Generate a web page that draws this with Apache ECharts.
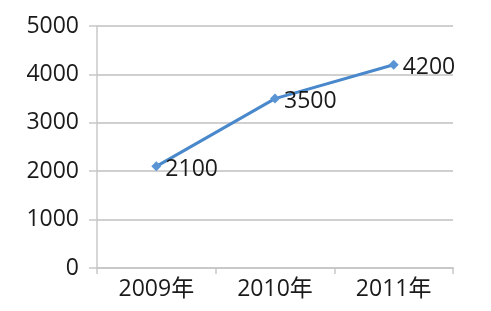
<!DOCTYPE html>
<html>
<head>
<meta charset="utf-8">
<script src="https://cdn.jsdelivr.net/npm/echarts@6/dist/echarts.min.js"></script>
<style>html,body{margin:0;padding:0;background:#fff}#main{width:491px;height:311px}</style>
</head>
<body>
<div id="main"></div>
<script>
// 年份 / 数值
var categories = ['2009年', '2010年', '2011年'];
var values = [2100, 3500, 4200];
var yMin = 0, yMax = 5000, yStep = 1000;

var chart = echarts.init(document.getElementById('main'));
chart.setOption({
    animation: false,
    textStyle: { fontFamily: 'Open Sans, Noto Sans CJK SC, sans-serif' },
    grid: { left: 97, right: 38, top: 26, bottom: 43 },
    xAxis: {
        type: 'category',
        data: categories,
        boundaryGap: true,
        axisLine: { lineStyle: { color: '#c8c8c8', width: 2 } },
        axisTick: { show: true, length: 6, lineStyle: { color: '#c8c8c8', width: 1.5 } },
        axisLabel: { color: '#1a1a1a', fontSize: 23, margin: 10 }
    },
    yAxis: {
        type: 'value',
        min: yMin, max: yMax, interval: yStep,
        axisLine: { show: true, lineStyle: { color: '#c8c8c8', width: 1.5 } },
        axisTick: { show: true, length: 8, lineStyle: { color: '#c8c8c8', width: 1.5 } },
        splitLine: { lineStyle: { color: '#d0d0d0', width: 2 } },
        axisLabel: { color: '#1a1a1a', fontSize: 23, margin: 18, formatter: function (v) { return String(v); } }
    },
    series: [{
        type: 'line',
        data: values,
        symbol: 'diamond',
        symbolSize: 10,
        lineStyle: { color: '#4a88cc', width: 3 },
        itemStyle: { color: '#5a94d4' },
        label: { show: true, position: 'right', distance: 4, color: '#1a1a1a', fontSize: 23, offset: [0, 3] }
    }]
});
</script>
</body>
</html>
